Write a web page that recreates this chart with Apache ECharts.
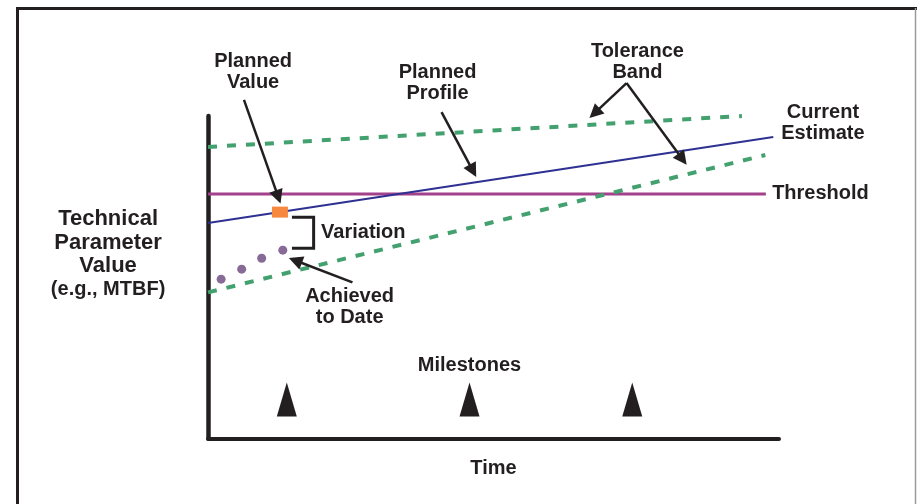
<!DOCTYPE html>
<html>
<head>
<meta charset="utf-8">
<script src="https://cdn.jsdelivr.net/npm/echarts@6/dist/echarts.min.js"></script>
<style>
  html, body { margin: 0; padding: 0; background: #fff; }
  #chart { width: 917px; height: 504px; }
</style>
</head>
<body>
<div id="chart"></div>
<script>
// values in chart units: x = time 0..100, y = parameter value 0..100
const upperBand = [[0, 90.4], [93.5, 100]];
const lowerBand = [[0, 45.3], [97.6, 87.9]];
const plannedProfile = [[0, 66.8], [99, 93.5]];
const threshold = [[0, 75.8], [97.7, 75.8]];
const plannedValue = [[12.6, 70.2]];
const achieved = [[2.3, 49.4], [5.9, 52.5], [9.4, 55.9], [13.1, 58.4]];
const milestones = [13.8, 45.8, 74.3];
const milestoneY = 12.1;
const variationBracket = [[14.7, 68.6], [18.5, 68.6], [18.5, 59.0], [14.7, 59.0]];

// arrows: [from, to]
const arrows = [
  [[6.3, 105], [12.3, 74.9]],
  [[40.9, 101.2], [46.4, 83.0]],
  [[73.3, 110.2], [67.7, 100.9]],
  [[73.3, 110.2], [83.1, 86.6]],
  [[25.3, 48.4], [15.3, 55.2]]
];

// annotation texts: [x, y, text, align]
const notes = [
  [7.9, 113.8, 'Planned\nValue', 'center'],
  [40.2, 110.2, 'Planned\nProfile', 'center'],
  [75.2, 116.8, 'Tolerance\nBand', 'center'],
  [107.7, 97.8, 'Current\nEstimate', 'center'],
  [98.8, 76.1, 'Threshold', 'left'],
  [19.8, 64.0, 'Variation', 'left'],
  [24.8, 40.8, 'Achieved\nto Date', 'center'],
  [45.8, 22.7, 'Milestones', 'center']
];
const yTitle = [-17.5, 57.1, 'Technical\nParameter\nValue\n{s|(e.g., MTBF)}'];

// the annotation layer uses the same scale as the plot, just a wider range
const outerX = [-30, 120];
const outerY = [-10, 125];

const ink = '#231f20';
const font = '"Liberation Sans", Arial, sans-serif';

const plot = { left: 208, right: 138, top: 116, bottom: 65.5 };
const pxX = (917 - plot.left - plot.right) / 100;
const pxY = (504 - plot.top - plot.bottom) / 100;

const chart = echarts.init(document.getElementById('chart'));

const noteData = notes.map(n => ({
  value: [n[0], n[1]],
  label: { formatter: n[2], align: n[3] }
}));
noteData.push({
  value: [yTitle[0], yTitle[1]],
  label: {
    formatter: yTitle[2], align: 'center', fontSize: 22, lineHeight: 23.5,
    rich: { s: { fontSize: 20, fontWeight: 'bold', fontFamily: font, color: ink, lineHeight: 23.5 } }
  }
});

const hiddenAxis = {
  type: 'value', show: false, axisLine: { show: false }, splitLine: { show: false }
};

const option = {
  animation: false,
  backgroundColor: '#fff',
  grid: [
    plot,
    {
      left: plot.left + outerX[0] * pxX,
      right: plot.right - (outerX[1] - 100) * pxX,
      top: plot.top - (outerY[1] - 100) * pxY,
      bottom: plot.bottom + outerY[0] * pxY
    }
  ],
  xAxis: [
    {
      type: 'value', min: 0, max: 100,
      name: 'Time', nameLocation: 'middle', nameGap: 20,
      nameTextStyle: { fontFamily: font, fontSize: 20, fontWeight: 'bold', color: ink, verticalAlign: 'top' },
      axisLine: { show: true, onZero: false, lineStyle: { color: ink, width: 4 } },
      axisTick: { show: false }, axisLabel: { show: false }, splitLine: { show: false }
    },
    Object.assign({ gridIndex: 1, min: outerX[0], max: outerX[1] }, hiddenAxis)
  ],
  yAxis: [
    {
      type: 'value', min: 0, max: 100,
      axisLine: { show: true, onZero: false, lineStyle: { color: ink, width: 4.5 } },
      axisTick: { show: false }, axisLabel: { show: false }, splitLine: { show: false }
    },
    Object.assign({ gridIndex: 1, min: outerY[0], max: outerY[1] }, hiddenAxis)
  ],
  graphic: [
    { type: 'polyline', silent: true, shape: { points: [[17.5, 520], [17.5, 8.5], [917, 8.5]] },
      style: { stroke: ink, lineWidth: 3, fill: null } },
    { type: 'line', silent: true, shape: { x1: 915.5, y1: 8, x2: 915.5, y2: 504 },
      style: { stroke: '#9a9a9a', lineWidth: 1.5 } }
  ],
  series: [
    { type: 'line', data: plannedProfile, symbol: 'none', silent: true, z: 3,
      lineStyle: { color: '#2e3192', width: 2 } },
    { type: 'line', data: threshold, symbol: 'none', silent: true, z: 2,
      lineStyle: { color: '#a3418b', width: 3 } },
    { type: 'line', data: upperBand, symbol: 'none', silent: true, z: 4,
      lineStyle: { color: '#43a06f', width: 4, type: [9, 10] } },
    { type: 'line', data: lowerBand, symbol: 'none', silent: true, z: 4,
      lineStyle: { color: '#43a06f', width: 4, type: [9, 10] } },
    { type: 'line', data: variationBracket, symbol: 'none', silent: true, z: 4,
      lineStyle: { color: ink, width: 3, join: 'miter' } },
    { type: 'scatter', data: plannedValue, symbol: 'rect', symbolSize: [16, 11], silent: true, z: 6,
      itemStyle: { color: '#f6883f', opacity: 1 } },
    { type: 'scatter', data: achieved, symbol: 'circle', symbolSize: 9, silent: true, z: 6,
      itemStyle: { color: '#876a96', opacity: 1 } },
    { type: 'scatter', data: milestones.map(x => [x, milestoneY]), symbol: 'triangle',
      symbolSize: [20, 34], silent: true, itemStyle: { color: ink, opacity: 1 } },
    { type: 'line', xAxisIndex: 1, yAxisIndex: 1, data: [], symbol: 'none', silent: true, clip: false, z: 7,
      markLine: {
        silent: true, symbol: ['none', 'triangle'], symbolSize: 14,
        label: { show: false },
        lineStyle: { color: ink, width: 2.5, type: 'solid', opacity: 1 },
        itemStyle: { color: ink },
        emphasis: { disabled: true },
        data: arrows.map(a => [{ coord: a[0] }, { coord: a[1] }])
      } },
    { type: 'scatter', xAxisIndex: 1, yAxisIndex: 1, data: noteData, symbolSize: 0, silent: true, clip: false, z: 8,
      itemStyle: { opacity: 1 },
      label: {
        show: true, position: [0, 0], verticalAlign: 'middle',
        fontFamily: font, fontSize: 20, fontWeight: 'bold', color: ink, lineHeight: 21
      } }
  ]
};

chart.setOption(option);
</script>
</body>
</html>
